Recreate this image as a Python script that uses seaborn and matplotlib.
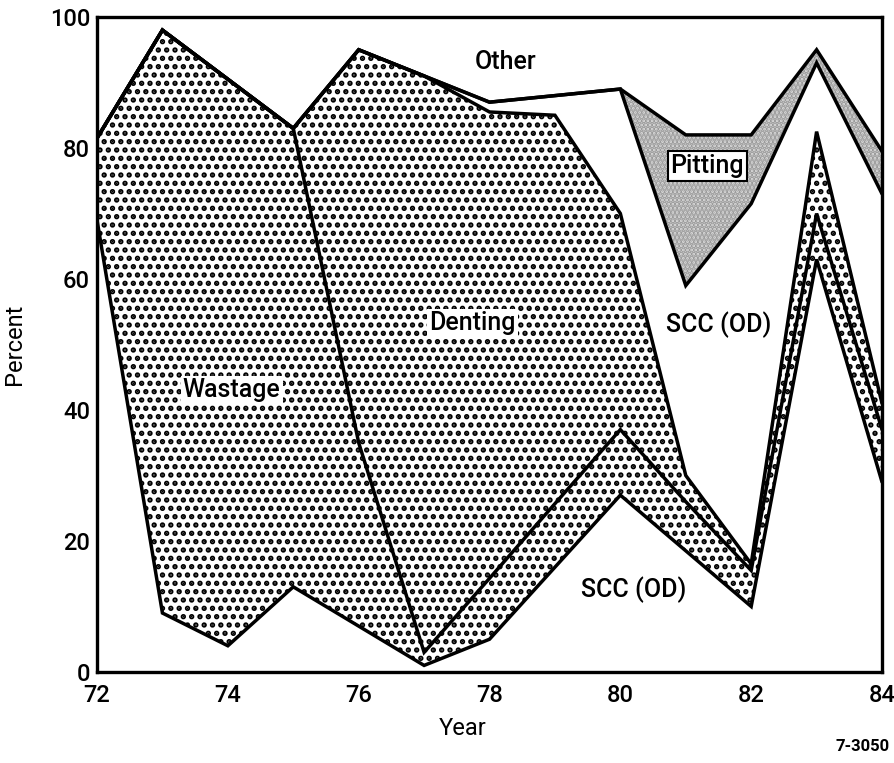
import numpy as np
import pandas as pd
import matplotlib
matplotlib.use("Agg")
import matplotlib.pyplot as plt
import seaborn as sns

# ---- data (percent share per category, stacked bottom -> top) ----
years = [72, 73, 74, 75, 76, 77, 78, 79, 80, 81, 82, 83, 84]
scc_od_lower = [69, 9, 4, 13, 7, 1, 5, 16, 27, 18.5, 10, 63, 29]
wastage = [12.5, 89, 86.5, 70, 28, 2, 9.3, 9.7, 10, 7.5, 5.5, 7, 8]
denting = [0, 0, 0, 0, 60, 88, 71.2, 59.3, 33, 4, 1, 12.5, 4]
scc_od_upper = [0, 0, 0, 0, 0, 0, 1.5, 3, 19, 29, 55, 10.5, 32]
pitting = [0, 0, 0, 0, 0, 0, 0, 0, 0, 23, 10.5, 2, 6.5]
other = [18.5, 2, 9.5, 17, 5, 9, 13, 12, 11, 18, 18, 5, 20.5]

x_ticks = [72, 74, 76, 78, 80, 82, 84]
y_ticks = [0, 20, 40, 60, 80, 100]

sns.set_theme(style="ticks")
plt.rcParams["font.family"] = ["Roboto", "Liberation Sans", "DejaVu Sans"]
plt.rcParams["font.weight"] = "medium"
plt.rcParams["text.color"] = "black"
plt.rcParams["axes.labelcolor"] = "black"
plt.rcParams["hatch.color"] = "black"
plt.rcParams["hatch.linewidth"] = 2.6

layers = [scc_od_lower, wastage, denting, scc_od_upper, pitting, other]
cum = np.cumsum(np.array(layers, dtype=float), axis=0)
x = np.array(years, dtype=float)

fig = plt.figure(figsize=(8.95, 7.63), dpi=100)
ax = fig.add_axes([0.1084, 0.1193, 0.8771, 0.8584])

# fills
ax.fill_between(x, 0, cum[0], facecolor="white", linewidth=0)
ax.fill_between(x, cum[0], cum[1], facecolor="white", edgecolor="black",
                hatch="..", linewidth=0)
ax.fill_between(x, cum[1], cum[2], facecolor="white", edgecolor="black",
                hatch="..", linewidth=0)
ax.fill_between(x, cum[2], cum[3], facecolor="white", linewidth=0)
ax.fill_between(x, cum[3], cum[4], facecolor="#d9d9d9", edgecolor="#9a9a9a",
                hatch="....", linewidth=0)
ax.fill_between(x, cum[4], cum[5], facecolor="white", linewidth=0)

# boundary lines via seaborn
rows = []
for i in range(5):
    for yr, v in zip(years, cum[i]):
        rows.append({"year": yr, "value": v, "boundary": f"b{i}"})
df = pd.DataFrame(rows)
sns.lineplot(data=df, x="year", y="value", hue="boundary",
             palette=["black"] * 5, legend=False, linewidth=2.5,
             solid_joinstyle="miter", ax=ax)

ax.set_xlim(72, 84)
ax.set_ylim(0, 100)
ax.set_xticks(x_ticks)
ax.set_yticks(y_ticks)
ax.tick_params(direction="in", length=10, width=1.8, top=True, right=True,
               labelsize=17, colors="black")
ax.tick_params(axis="x", pad=9)
ax.tick_params(axis="y", pad=5)
for s in ax.spines.values():
    s.set_linewidth(2.4)
    s.set_color("black")

ax.set_xlabel("Year", fontsize=17, color="black")
ax.set_ylabel("Percent", fontsize=17, color="black")
ax.xaxis.set_label_coords(0.466, -0.068)
ax.yaxis.set_label_coords(-0.09, 0.5)

fs = 18
box = dict(facecolor="white", edgecolor="none", pad=1.5)
ax.text(74.06, 43, "Wastage", fontsize=fs, ha="center", va="center",
        color="black", bbox=box)
ax.text(77.74, 53.3, "Denting", fontsize=fs, ha="center", va="center",
        color="black", bbox=box)
ax.text(81.5, 53, "SCC (OD)", fontsize=fs, ha="center", va="center",
        color="black")
ax.text(80.2, 12.5, "SCC (OD)", fontsize=fs, ha="center", va="center",
        color="black")
ax.text(78.24, 93.1, "Other", fontsize=fs, ha="center", va="center",
        color="black")
ax.text(81.33, 77.3, "Pitting", fontsize=fs, ha="center", va="center",
        color="black",
        bbox=dict(facecolor="white", edgecolor="black", linewidth=1.5,
                  boxstyle="square,pad=0.12"))

fig.text(0.994, 0.012, "7-3050", fontsize=12, fontweight="bold",
         ha="right", va="bottom", color="black")

fig.savefig("out.png", dpi=100)
